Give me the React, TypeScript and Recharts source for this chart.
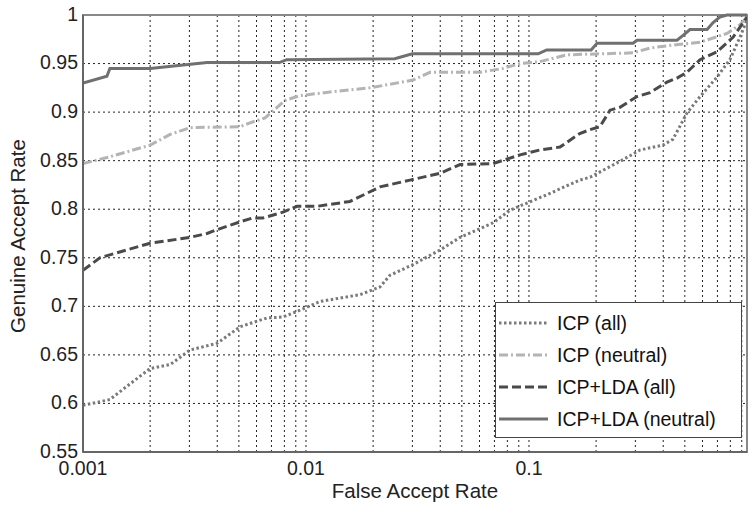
import { LineChart, Line, XAxis, YAxis, CartesianGrid, Legend, ReferenceArea } from 'recharts'

// ROC curves, false accept rate (log) vs genuine accept rate
const ICP_ALL_X = [0.001, 0.00132, 0.00154, 0.002, 0.00246, 0.00302, 0.004, 0.00506, 0.00668, 0.00788, 0.0094, 0.01156, 0.01746, 0.02147, 0.0238, 0.0302, 0.0399, 0.0491, 0.069, 0.0822, 0.1204, 0.169, 0.188, 0.264, 0.315, 0.399, 0.442, 0.511, 0.585, 0.697, 0.796, 0.883, 0.95]
const ICP_ALL_Y = [0.598, 0.604, 0.616, 0.636, 0.64, 0.655, 0.662, 0.679, 0.688, 0.689, 0.696, 0.705, 0.712, 0.72, 0.732, 0.743, 0.758, 0.771, 0.786, 0.799, 0.815, 0.83, 0.833, 0.851, 0.861, 0.866, 0.872, 0.899, 0.916, 0.936, 0.954, 0.977, 0.995]

const ICP_NEUTRAL_X = [0.001, 0.00132, 0.002, 0.00246, 0.00302, 0.00506, 0.00561, 0.00655, 0.00805, 0.0094, 0.0132, 0.01936, 0.0302, 0.036, 0.0603, 0.0764, 0.0912, 0.112, 0.148, 0.293, 0.349, 0.442, 0.585, 0.773, 0.883, 0.95]
const ICP_NEUTRAL_Y = [0.847, 0.854, 0.866, 0.877, 0.884, 0.885, 0.889, 0.894, 0.912, 0.917, 0.921, 0.925, 0.933, 0.941, 0.941, 0.945, 0.95, 0.952, 0.959, 0.961, 0.966, 0.969, 0.972, 0.981, 0.99, 0.998]

const LDA_ALL_X = [0.001, 0.00119, 0.002, 0.00302, 0.0036, 0.004, 0.00506, 0.00578, 0.00641, 0.00788, 0.00912, 0.0112, 0.01575, 0.02147, 0.02927, 0.0399, 0.0491, 0.069, 0.0912, 0.112, 0.1377, 0.169, 0.188, 0.208, 0.231, 0.256, 0.305, 0.349, 0.416, 0.461, 0.511, 0.585, 0.697, 0.822, 0.912, 0.95]
const LDA_ALL_Y = [0.737, 0.75, 0.765, 0.771, 0.775, 0.779, 0.787, 0.791, 0.791, 0.797, 0.803, 0.803, 0.808, 0.823, 0.83, 0.837, 0.846, 0.847, 0.856, 0.861, 0.864, 0.878, 0.882, 0.885, 0.902, 0.905, 0.916, 0.92, 0.931, 0.935, 0.941, 0.954, 0.962, 0.977, 0.992, 0.998]

const LDA_NEUTRAL_X = [0.001, 0.00128, 0.00132, 0.002, 0.0036, 0.0076, 0.0082, 0.025, 0.03, 0.11, 0.12, 0.19, 0.202, 0.293, 0.305, 0.461, 0.491, 0.527, 0.629, 0.668, 0.719, 0.773, 0.95]
const LDA_NEUTRAL_Y = [0.93, 0.937, 0.945, 0.945, 0.951, 0.951, 0.954, 0.955, 0.96, 0.96, 0.964, 0.964, 0.971, 0.971, 0.974, 0.974, 0.979, 0.985, 0.985, 0.992, 0.998, 1.0, 1.0]

const Y_TICKS = [0.55, 0.6, 0.65, 0.7, 0.75, 0.8, 0.85, 0.9, 0.95, 1]
const DECADES = [0.001, 0.01, 0.1]
const MULTS = [1, 2, 3, 4, 5, 6, 7, 8, 9]
const X_TICKS = DECADES.flatMap(d => MULTS.map(m => +(d * m).toPrecision(3)))

const FONT = '"Liberation Sans", Arial, sans-serif'
const FS = 19.5
const TITLE_FS = 20.5

const toPoints = (xs: number[], ys: number[]) => xs.map((x, i) => ({ x, y: ys[i] }))

const SERIES = [
  { name: 'ICP (all)', data: toPoints(ICP_ALL_X, ICP_ALL_Y), color: '#7a7a7a', dash: '2.5 2.5' },
  { name: 'ICP (neutral)', data: toPoints(ICP_NEUTRAL_X, ICP_NEUTRAL_Y), color: '#b4b4b4', dash: '9 3 2 3' },
  { name: 'ICP+LDA (all)', data: toPoints(LDA_ALL_X, LDA_ALL_Y), color: '#4a4a4a', dash: '9 4' },
  { name: 'ICP+LDA (neutral)', data: toPoints(LDA_NEUTRAL_X, LDA_NEUTRAL_Y), color: '#707070', dash: undefined },
]

const XTick = ({ x, payload }: any) => {
  if (!DECADES.includes(payload.value)) return <g />
  return (
    <text x={x} y={475} textAnchor="middle" fontSize={FS} fontFamily={FONT} fill="#222">
      {String(payload.value)}
    </text>
  )
}

const YTick = ({ y, payload }: any) => (
  <text x={78} y={y} dy="0.3em" textAnchor="end" fontSize={FS} fontFamily={FONT} fill="#222">
    {String(payload.value)}
  </text>
)

const renderLegend = () => (
  <div style={{ width: 245, height: 130, border: '1px solid #444', background: '#fff', paddingTop: 4, boxSizing: 'content-box' }}>
    {SERIES.map(s => (
      <div key={s.name} style={{ height: 32, display: 'flex', alignItems: 'center' }}>
        <svg width={60} height={32} style={{ flex: 'none' }}>
          <line x1={3} x2={52} y1={16} y2={16} stroke={s.color} strokeWidth={3} strokeDasharray={s.dash} />
        </svg>
        <span style={{ fontFamily: FONT, fontSize: FS, color: '#111', marginLeft: 1 }}>{s.name}</span>
      </div>
    ))}
  </div>
)

export default function App() {
  return (
    <div style={{ position: 'absolute', left: 0, top: 0, width: 748, height: 505, background: '#fff' }}>
      <LineChart width={748} height={505} margin={{ top: 15, right: 1, left: 0, bottom: 0 }}>
        <CartesianGrid stroke="#222" strokeDasharray="2 3" strokeWidth={1} />
        <XAxis
          dataKey="x"
          type="number"
          scale="log"
          domain={[0.001, 0.95]}
          allowDataOverflow
          ticks={X_TICKS}
          interval={0}
          tick={<XTick />}
          tickLine={false}
          axisLine={{ stroke: '#666', strokeWidth: 2 }}
          height={53}
          label={{
            content: () => (
              <text x={415} y={498} textAnchor="middle" fontSize={TITLE_FS} fontFamily={FONT} fill="#222">
                False Accept Rate
              </text>
            ),
          }}
        />
        <YAxis
          type="number"
          domain={[0.55, 1]}
          ticks={Y_TICKS}
          interval={0}
          tick={<YTick />}
          tickLine={false}
          axisLine={{ stroke: '#666', strokeWidth: 2 }}
          width={83}
          label={{
            content: () => (
              <text x={18} y={236} dy="0.36em" textAnchor="middle" fontSize={TITLE_FS} fontFamily={FONT} fill="#222" transform="rotate(-90, 18, 236)">
                Genuine Accept Rate
              </text>
            ),
          }}
        />
        <ReferenceArea x1={0.001} x2={0.95} y1={0.55} y2={1} fill="none" stroke="#888" strokeWidth={2} ifOverflow="visible" />
        {SERIES.map(s => (
          <Line
            key={s.name}
            data={s.data}
            dataKey="y"
            name={s.name}
            type="linear"
            stroke={s.color}
            strokeWidth={3}
            strokeDasharray={s.dash}
            dot={false}
            activeDot={false}
            isAnimationActive={false}
          />
        ))}
        <Legend
          layout="horizontal"
          align="center"
          verticalAlign="middle"
          content={renderLegend}
          wrapperStyle={{ left: 495, top: 302, width: 247, height: 134 }}
        />
      </LineChart>
    </div>
  )
}
